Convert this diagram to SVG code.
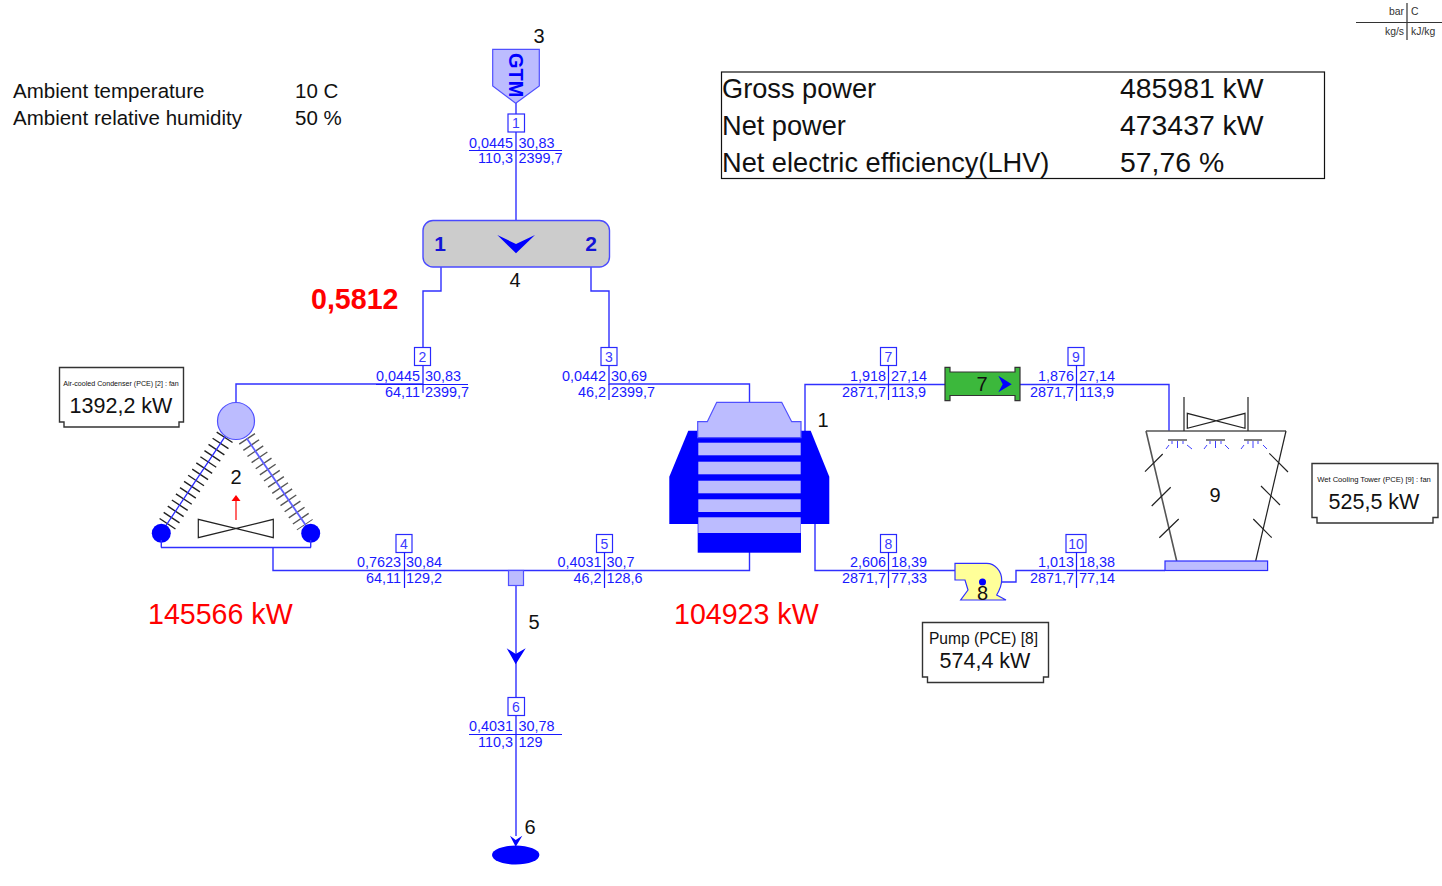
<svg xmlns="http://www.w3.org/2000/svg" width="1442" height="886" viewBox="0 0 1442 886">
<style>
text{font-family:"Liberation Sans",Arial,sans-serif;fill:#111}
.d{font-size:14.4px;fill:#1a1aff}
.e{text-anchor:end}
.n{font-size:14px;fill:#3a3aff;text-anchor:middle}
.bx{fill:#fff;stroke:#2a2aff;stroke-width:1.2}
.c{fill:none;stroke:#3030ff;stroke-width:1.4}
.t{fill:none;stroke:#1a1aff;stroke-width:1.2}
.lab{font-size:20px;text-anchor:middle}
.lt{fill:#bcbcff;stroke:#5050ff;stroke-width:1.2}
.b{fill:#0000ff}
.k{fill:none;stroke:#222;stroke-width:1.2}
.g{fill:none;stroke:#555;stroke-width:1.6}
.pw{fill:#fff;stroke:#333;stroke-width:1.4}
.big{font-size:21.5px;text-anchor:middle}
.res{font-size:27.2px}
.val{font-size:28.4px}
.amb{font-size:20.5px}
.red{fill:#ff0000;font-size:28.6px}
.cap{font-size:10.400px;fill:#333}
</style>
<g id="connectors">
<path class="c" d="M516 103V220"/>
<path class="c" d="M441 267V291H423V384H236V403"/>
<path class="c" d="M591 267V291H609V384H749.500V402"/>
<path class="c" d="M273 547V570.500H749.500V552"/>
<path class="c" d="M805 431V384.500H945"/>
<path class="c" d="M1020 384.500H1169V431"/>
<path class="c" d="M815 524V570.500H955"/>
<path class="c" d="M1002 582H1016V570.500H1165"/>
<path class="c" d="M516 586V664M516 664V836"/>
</g>
<g id="stream1">
<rect class="bx" x="508" y="114" width="16.500" height="18"/><text class="n" x="516" y="128">1</text>
<path class="t" d="M469 150.500H562"/>
<text class="d e" x="513" y="147.500">0,0445</text><text class="d" x="518.500" y="147.500">30,83</text>
<text class="d e" x="513" y="163">110,3</text><text class="d" x="518.500" y="163">2399,7</text>
</g>
<g id="stream2">
<rect class="bx" x="414.500" y="347.500" width="16" height="18"/><text class="n" x="422.500" y="361.500">2</text>
<path class="t" d="M423 384V393M376 384.500H468"/>
<text class="d e" x="420" y="381">0,0445</text><text class="d" x="425" y="381">30,83</text>
<text class="d e" x="420" y="397">64,11</text><text class="d" x="425" y="397">2399,7</text>
</g>
<g id="stream3">
<rect class="bx" x="601" y="347.500" width="16" height="18"/><text class="n" x="609" y="361.500">3</text>
<path class="t" d="M609 384V400"/>
<text class="d e" x="606" y="381">0,0442</text><text class="d" x="611" y="381">30,69</text>
<text class="d e" x="606" y="397">46,2</text><text class="d" x="611" y="397">2399,7</text>
</g>
<g id="stream4">
<rect class="bx" x="396" y="534.500" width="16" height="18"/><text class="n" x="404" y="548.500">4</text>
<path class="t" d="M404.500 552V588"/>
<text class="d e" x="401" y="567">0,7623</text><text class="d" x="406" y="567">30,84</text>
<text class="d e" x="401" y="583">64,11</text><text class="d" x="406" y="583">129,2</text>
</g>
<g id="stream5">
<rect class="bx" x="596.500" y="534.500" width="16" height="18"/><text class="n" x="604.500" y="548.500">5</text>
<path class="t" d="M604.500 552V588"/>
<text class="d e" x="601.500" y="567">0,4031</text><text class="d" x="606.500" y="567">30,7</text>
<text class="d e" x="601.500" y="583">46,2</text><text class="d" x="606.500" y="583">128,6</text>
</g>
<g id="stream6">
<rect class="bx" x="508" y="697.500" width="16.500" height="18"/><text class="n" x="516" y="711.500">6</text>
<path class="t" d="M469 734.500H562"/>
<text class="d e" x="513" y="731">0,4031</text><text class="d" x="518.500" y="731">30,78</text>
<text class="d e" x="513" y="747">110,3</text><text class="d" x="518.500" y="747">129</text>
</g>
<g id="stream7">
<rect class="bx" x="880.500" y="347.500" width="16" height="18"/><text class="n" x="888.500" y="361.500">7</text>
<path class="t" d="M888.500 365V400"/>
<text class="d e" x="886" y="381">1,918</text><text class="d" x="891" y="381">27,14</text>
<text class="d e" x="886" y="397">2871,7</text><text class="d" x="891" y="397">113,9</text>
</g>
<g id="stream9">
<rect class="bx" x="1068" y="347.500" width="16" height="18"/><text class="n" x="1076" y="361.500">9</text>
<path class="t" d="M1076.500 365V401"/>
<text class="d e" x="1074" y="381">1,876</text><text class="d" x="1079" y="381">27,14</text>
<text class="d e" x="1074" y="397">2871,7</text><text class="d" x="1079" y="397">113,9</text>
</g>
<g id="stream8">
<rect class="bx" x="880.500" y="534.500" width="16" height="18"/><text class="n" x="888.500" y="548.500">8</text>
<path class="t" d="M888.500 552V588"/>
<text class="d e" x="886" y="567">2,606</text><text class="d" x="891" y="567">18,39</text>
<text class="d e" x="886" y="583">2871,7</text><text class="d" x="891" y="583">77,33</text>
</g>
<g id="stream10">
<rect class="bx" x="1066" y="534.500" width="20" height="18"/><text class="n" x="1076" y="548.500">10</text>
<path class="t" d="M1076.500 552V588"/>
<text class="d e" x="1074" y="567">1,013</text><text class="d" x="1079" y="567">18,38</text>
<text class="d e" x="1074" y="583">2871,7</text><text class="d" x="1079" y="583">77,14</text>
</g>
<g id="node3">
<polygon class="lt" points="492.700,49.300 539.300,49.300 539.300,86 515.700,103.300 492.700,86"/>
<text transform="translate(509 53) rotate(90)" font-size="20" font-weight="bold" style="fill:#0000ff">GTM</text>
<text class="lab" x="539" y="43">3</text>
</g>
<g id="node4">
<rect x="423" y="220.500" width="186.500" height="46.500" rx="10" fill="#cccccc" stroke="#4a4aff" stroke-width="1.4"/>
<polygon class="b" points="497.300,235 516,244 535,235 516,253.300"/>
<text x="440" y="251" font-size="21" font-weight="bold" text-anchor="middle" style="fill:#1414d8">1</text>
<text x="591" y="251" font-size="21" font-weight="bold" text-anchor="middle" style="fill:#1414d8">2</text>
<text class="lab" x="515" y="287">4</text>
</g>
<g id="node2">
<path d="M225 436.700L166.700 525" fill="none" stroke="#222" stroke-width="19" stroke-dasharray="1.400 6"/>
<path d="M246.700 438.300L305 525" fill="none" stroke="#555" stroke-width="19" stroke-dasharray="1.400 6"/>
<path d="M225 436.700L161 533" fill="none" stroke="#2a2aff" stroke-width="1.3"/>
<path d="M246.700 438.300L311 533" fill="none" stroke="#6060ff" stroke-width="1.8"/>
<circle class="lt" cx="236" cy="421" r="18.500"/>
<circle class="b" cx="161.300" cy="533.300" r="9.500"/>
<circle class="b" cx="310.700" cy="533.300" r="9.500"/>
<path class="c" d="M161 547.500H311M161.300 540V547.500M310.700 540V547.500"/>
<path class="k" d="M198.300 519.300V537.700L273.300 519.300V537.700Z"/>
<path d="M236 520V500" stroke="#ff0000" stroke-width="1.2" fill="none"/>
<polygon points="236,495 231.500,501 240.500,501" fill="#ff0000"/>
<text class="lab" x="236" y="484">2</text>
</g>
<g id="node1">
<path class="b" d="M688.300 430.700H698V524H669.300V476.700Z"/>
<path class="b" d="M810.700 430.700H801V524H829.300V476.700Z"/>
<rect class="b" x="697.700" y="437" width="103.300" height="115.700"/>
<path class="lt" d="M697.700 437.700V421.700H707.300L716.700 402.300H781.700L791.700 421.700H801V437.700Z"/>
<rect x="698.300" y="442.700" width="102.400" height="12.600" fill="#bcbcff"/>
<rect x="698.300" y="461.700" width="102.400" height="12.600" fill="#bcbcff"/>
<rect x="698.300" y="480.700" width="102.400" height="12.600" fill="#bcbcff"/>
<rect x="698.300" y="499.300" width="102.400" height="12.700" fill="#bcbcff"/>
<rect x="698.300" y="517.300" width="102.400" height="15.700" fill="#bcbcff"/>
<text class="lab" x="823" y="427">1</text>
</g>
<g id="node7">
<path d="M945 367.300H950V372H1015V367.300H1020V400.700H1015V395.500H950V400.700H945Z" fill="#3cb83c" stroke="#333" stroke-width="1.200"/>
<polygon class="b" points="998.300,375.700 1011.700,384.300 998.300,392.300 1002.700,384.300"/>
<text class="lab" x="982" y="391">7</text>
</g>
<g id="node9">
<path class="g" d="M1146 431H1286M1146 431L1176.700 561"/>
<path class="k" d="M1286 431L1255.700 561"/>
<path class="k" d="M1184 397V431"/>
<path class="k" d="M1248 397V431"/>
<path class="k" d="M1187.300 413.300V428.300L1245 413.300V428.300Z"/>
<path class="k" d="M1145 471.700L1162.700 454M1151.700 506L1170.700 487.300M1159.300 537.700L1178.700 519M1269.300 453.300L1288 472M1261 486L1280 505M1253.300 519L1271.700 537.700"/>
<path d="M1168 440H1187M1206 440H1225M1244 440H1262" stroke="#555" stroke-width="1.400" fill="none"/>
<path d="M1172 441V444M1177.500 441V448M1183 441V444M1210 441V444M1215.500 441V448M1221 441V444M1248 441V444M1253 441V448M1258 441V444M1169 445L1166 449M1187 445L1192 449M1207 445L1204 449M1225 445L1229 449M1244 445L1241 449M1263 445L1267 449" stroke="#4040ff" stroke-width="1" fill="none"/>
<rect x="1165" y="561" width="102.600" height="9.500" fill="#bcbcff" stroke="#2a2aff" stroke-width="1.200"/>
<text class="lab" x="1215" y="502">9</text>
</g>
<g id="node8">
<path d="M955 563.300H986.700C995 563.300 1001.700 571 1001.700 580C1001.700 586 999 591 996.700 595L1006 600H960.700L968 590L965 580H955Z" fill="#ffff99" stroke="#3030ff" stroke-width="1.200"/>
<circle class="b" cx="982.500" cy="582" r="3.500"/>
<text class="lab" x="982.500" y="600">8</text>
</g>
<g id="node5">
<rect class="lt" x="508.500" y="570.500" width="15" height="15"/>
<polygon class="b" points="506.700,648.300 515.700,654 525.700,648.300 515.700,664.300"/>
<text class="lab" x="534" y="629">5</text>
</g>
<g id="node6">
<polygon class="b" points="510,835.700 515.700,840 522.300,835.700 515.700,846.700"/>
<ellipse class="b" cx="515.700" cy="855" rx="23.700" ry="9.500"/>
<text class="lab" x="530" y="834">6</text>
</g>
<g id="power2">
<path class="pw" d="M59.500 367.500H183.500V422H179V427H64V422H59.500Z"/>
<text x="121" y="386" font-size="7.100" text-anchor="middle">Air-cooled Condenser (PCE) [2] : fan</text>
<text class="big" x="121" y="413">1392,2 kW</text>
</g>
<g id="power9">
<path class="pw" d="M1312 463.500H1438V517.500H1433V523H1317V517.500H1312Z"/>
<text x="1374" y="482" font-size="7.600" text-anchor="middle">Wet Cooling Tower (PCE) [9] : fan</text>
<text class="big" x="1374" y="509">525,5 kW</text>
</g>
<g id="power8">
<path class="pw" d="M922.500 622.500H1048.500V677H1043.500V682.500H927.500V677H922.500Z"/>
<text x="983.500" y="644" font-size="15.600" text-anchor="middle">Pump (PCE) [8]</text>
<text class="big" x="985" y="668">574,4 kW</text>
</g>
<g id="results">
<rect x="721.500" y="72" width="603" height="106.500" fill="none" stroke="#111" stroke-width="1.200"/>
<text class="res" x="722" y="98">Gross power</text><text class="val" x="1120" y="98">485981 kW</text>
<text class="res" x="722" y="135">Net power</text><text class="val" x="1120" y="135">473437 kW</text>
<text class="res" x="722" y="172">Net electric efficiency(LHV)</text><text class="val" x="1120" y="172">57,76 %</text>
</g>
<g id="ambient">
<text class="amb" x="13" y="98">Ambient temperature</text><text class="amb" x="295" y="98">10 C</text>
<text class="amb" x="13" y="125">Ambient relative humidity</text><text class="amb" x="295" y="125">50 %</text>
</g>
<g id="annotations">
<text x="311" y="309" font-size="28.600" font-weight="bold" style="fill:#ff0000">0,5812</text>
<text class="red" x="148" y="624">145566 kW</text>
<text class="red" x="674" y="624">104923 kW</text>
</g>
<g id="legend">
<path d="M1356 22.500H1442M1407 3V40" stroke="#333" stroke-width="1.200" fill="none"/>
<text class="cap e" x="1404" y="15">bar</text><text class="cap" x="1411" y="15">C</text>
<text class="cap e" x="1404" y="35">kg/s</text><text class="cap" x="1411" y="35">kJ/kg</text>
</g>
</svg>
